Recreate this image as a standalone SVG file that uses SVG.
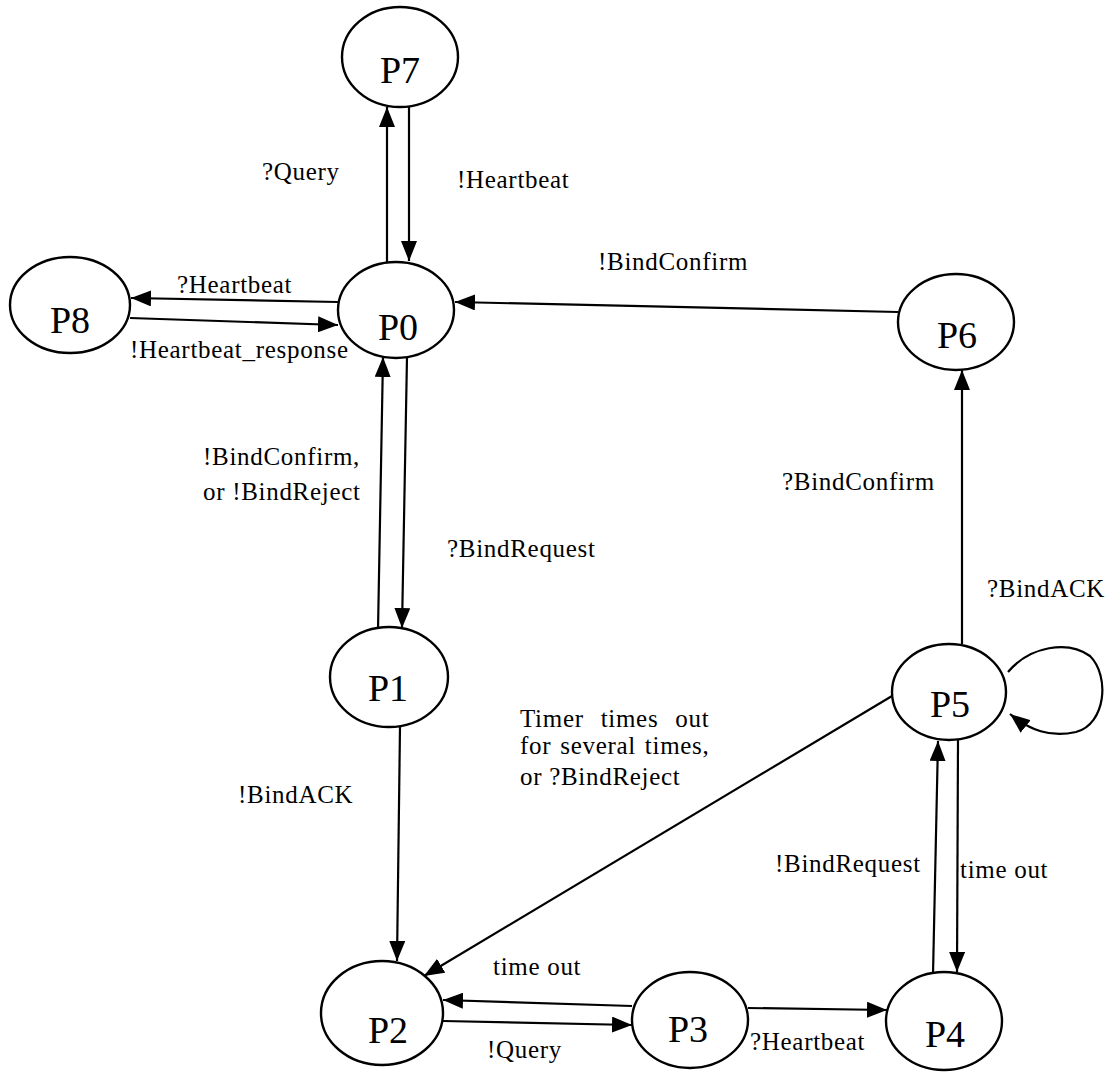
<svg xmlns="http://www.w3.org/2000/svg" width="1111" height="1072" viewBox="0 0 1111 1072">
  <style>
    .node ellipse { fill: #ffffff; stroke: #000000; stroke-width: 2.4; }
    .node text { font-family: "Liberation Serif", "Times New Roman", serif; font-size: 38px; text-anchor: middle; fill: #000000; }
    .edge { fill: none; stroke: #000000; stroke-width: 2.2; marker-end: url(#arrow); }
    .label { font-family: "Liberation Serif", "Times New Roman", serif; font-size: 25px; letter-spacing: 0.7px; fill: #000000; }
  </style>
  <defs>
    <marker id="arrow" viewBox="0 0 20 16" refX="20" refY="8" markerWidth="20" markerHeight="16" markerUnits="userSpaceOnUse" orient="auto">
      <path d="M0,0 L20,8 L0,16 Z" fill="#000000"/>
    </marker>
  </defs>
  <rect width="1111" height="1072" fill="#ffffff"/>

  <!-- transitions -->
  <g id="connectors">
    <line class="edge" x1="387" y1="263" x2="387" y2="107"/>
    <line class="edge" x1="409" y1="107" x2="409" y2="261"/>
    <line class="edge" x1="338" y1="302" x2="131" y2="298"/>
    <line class="edge" x1="130" y1="318" x2="338" y2="325"/>
    <line class="edge" x1="898" y1="312" x2="455" y2="302"/>
    <line class="edge" x1="407" y1="357" x2="402" y2="628"/>
    <line class="edge" x1="378" y1="630" x2="383" y2="357"/>
    <line class="edge" x1="400" y1="727" x2="397" y2="961"/>
    <line class="edge" x1="892" y1="696" x2="424" y2="976"/>
    <line class="edge" x1="632" y1="1006" x2="443" y2="1000"/>
    <line class="edge" x1="443" y1="1021" x2="632" y2="1025"/>
    <line class="edge" x1="748" y1="1008" x2="887" y2="1010"/>
    <line class="edge" x1="933" y1="975" x2="938" y2="741"/>
    <line class="edge" x1="958" y1="740" x2="957" y2="972"/>
    <line class="edge" x1="962" y1="644" x2="962" y2="370"/>
    <path class="edge" d="M1008,672 C1030,646 1068,640 1090,656 C1110,676 1106,724 1076,732 C1050,738 1030,730 1010,714"/>
  </g>

  <!-- transition labels -->
  <g id="labels">
    <text class="label" x="262" y="180">?Query</text>
    <text class="label" x="457" y="188">!Heartbeat</text>
    <text class="label" x="177" y="293">?Heartbeat</text>
    <text class="label" x="130" y="358">!Heartbeat_response</text>
    <text class="label" x="598" y="270">!BindConfirm</text>
    <text class="label" x="203" y="465">!BindConfirm,</text>
    <text class="label" x="203" y="500">or !BindReject</text>
    <text class="label" x="447" y="557">?BindRequest</text>
    <text class="label" x="782" y="490">?BindConfirm</text>
    <text class="label" x="987" y="597">?BindACK</text>
    <text class="label" x="520" y="727" word-spacing="10">Timer times out</text>
    <text class="label" x="520" y="754" word-spacing="2">for several times,</text>
    <text class="label" x="520" y="785">or ?BindReject</text>
    <text class="label" x="238" y="803">!BindACK</text>
    <text class="label" x="493" y="975">time out</text>
    <text class="label" x="487" y="1058">!Query</text>
    <text class="label" x="750" y="1050">?Heartbeat</text>
    <text class="label" x="775" y="872">!BindRequest</text>
    <text class="label" x="960" y="878">time out</text>
  </g>

  <!-- states -->
  <g id="P7" class="node"><ellipse cx="400" cy="57" rx="58" ry="50"/><text x="400" y="83">P7</text></g>
  <g id="P8" class="node"><ellipse cx="70" cy="305" rx="60" ry="48"/><text x="70" y="333">P8</text></g>
  <g id="P0" class="node"><ellipse cx="396" cy="310" rx="58" ry="48"/><text x="398" y="340">P0</text></g>
  <g id="P6" class="node"><ellipse cx="956" cy="322" rx="58" ry="48"/><text x="957" y="348">P6</text></g>
  <g id="P1" class="node"><ellipse cx="389" cy="677" rx="59" ry="50"/><text x="388" y="701">P1</text></g>
  <g id="P5" class="node"><ellipse cx="949" cy="692" rx="57" ry="48"/><text x="950" y="717">P5</text></g>
  <g id="P2" class="node"><ellipse cx="382" cy="1013" rx="61" ry="52"/><text x="388" y="1043">P2</text></g>
  <g id="P3" class="node"><ellipse cx="690" cy="1020" rx="58" ry="48"/><text x="688" y="1042">P3</text></g>
  <g id="P4" class="node"><ellipse cx="944" cy="1021" rx="58" ry="49"/><text x="945" y="1047">P4</text></g>
</svg>
